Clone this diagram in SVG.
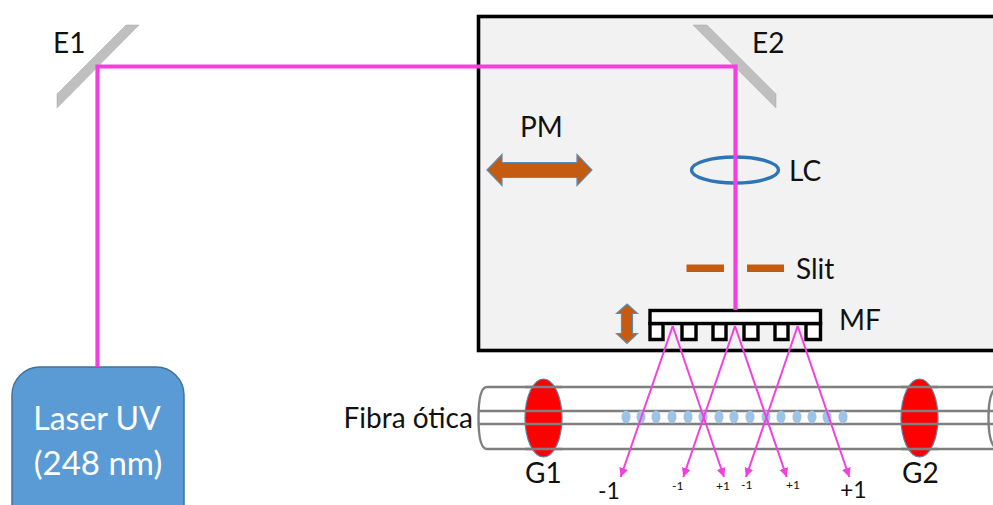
<svg xmlns="http://www.w3.org/2000/svg" width="993" height="505" viewBox="0 0 993 505">
<style>
text{font-family:"Lato","Open Sans","Liberation Sans",sans-serif;fill:#111}
.l{font-size:28px}
.s{font-size:12px}
.m{fill:#bfbfbf;stroke:#a6a6a6;stroke-width:.5}
.beam{fill:none;stroke:#f43fe0;stroke-width:4.200}
.ray{stroke:#f43fe0;stroke-width:2;fill:none;marker-end:url(#ah)}
.o{fill:#c55a11}
.oa{fill:#c55a11;stroke:#5b8cb8;stroke-width:1.200}
.f{fill:none;stroke:#7f7f7f;stroke-width:2.400}
.g{fill:#f00;stroke:#5b82a8;stroke-width:1.200}
.d{fill:#9dc3e6}
.t{fill:#fff;stroke:#000;stroke-width:3.400}
</style>
<defs>
<marker id="ah" markerUnits="userSpaceOnUse" markerWidth="12" markerHeight="12" refX="9" refY="4.500" orient="auto">
<path d="M0,0L9,4.500L0,9Z" fill="#f43fe0"/>
</marker>
</defs>
<g id="chamber"><rect x="478.500" y="16.500" width="530" height="334" fill="#f2f2f2" stroke="#000" stroke-width="3.600"/></g>
<g id="fiber">
<path class="f" d="M998,387H487C481,387 478.500,400 478.500,418C478.500,436 481,449 487,449H998"/>
<path class="f" d="M479,411H993M479,424H993"/>
<path class="f" d="M997,387C991,390 988.500,402 988.500,418C988.500,434 991,446 997,449"/>
</g>
<g id="gratings-dots" class="d">
<ellipse cx="626" cy="417" rx="4.500" ry="6.500"/><ellipse cx="641" cy="417" rx="4.500" ry="6.500"/><ellipse cx="656" cy="417" rx="4.500" ry="6.500"/><ellipse cx="672" cy="417" rx="4.500" ry="6.500"/><ellipse cx="688" cy="417" rx="4.500" ry="6.500"/><ellipse cx="703" cy="417" rx="4.500" ry="6.500"/><ellipse cx="719" cy="417" rx="4.500" ry="6.500"/><ellipse cx="734" cy="417" rx="4.500" ry="6.500"/><ellipse cx="750" cy="417" rx="4.500" ry="6.500"/><ellipse cx="766" cy="417" rx="4.500" ry="6.500"/><ellipse cx="781" cy="417" rx="4.500" ry="6.500"/><ellipse cx="797" cy="417" rx="4.500" ry="6.500"/><ellipse cx="812" cy="417" rx="4.500" ry="6.500"/><ellipse cx="827" cy="417" rx="4.500" ry="6.500"/><ellipse cx="843" cy="417" rx="4.500" ry="6.500"/>
</g>
<g id="G1"><ellipse class="g" cx="543.500" cy="418" rx="18.500" ry="39"/><path class="f" d="M525,387H562M525,411H562M525,424H562M525,449H562"/><text class="l" x="525" y="483">G1</text></g>
<g id="G2"><ellipse class="g" cx="919.500" cy="418" rx="18.500" ry="39"/><path class="f" d="M901,387H938M901,411H938M901,424H938M901,449H938"/><text class="l" x="902" y="483">G2</text></g>
<g id="fiber-label"><text class="l" x="343.500" y="428">Fibra ótica</text></g>
<g id="laser"><rect x="12" y="367" width="172" height="170" rx="28" fill="#5b9bd5" stroke="#41719c" stroke-width="1.500"/>
<text x="97" y="430" font-size="32" text-anchor="middle" style="fill:#fff">Laser UV</text>
<text x="98" y="475" font-size="33" text-anchor="middle" style="fill:#fff">(248 nm)</text></g>
<g id="E1"><polygon class="m" points="126,25 139,25 57,108 57,94"/><text class="l" x="53" y="53">E1</text></g>
<g id="E2"><polygon class="m" points="693,25 707,25 776,94 776,108"/><text class="l" x="752" y="53">E2</text></g>
<g id="PM"><polygon class="oa" points="487,170 502,154.500 502,162.500 577,162.500 577,154.500 592,170 577,185.500 577,177.500 502,177.500 502,185.500"/><text class="l" x="520" y="137">PM</text></g>
<g id="LC"><ellipse cx="735" cy="170" rx="43.500" ry="13" fill="none" stroke="#2e75b6" stroke-width="3.400"/><text class="l" x="789" y="181">LC</text></g>
<g id="Slit"><rect class="o" x="686.500" y="264.500" width="37.500" height="7.500"/><rect class="o" x="747" y="264.500" width="37" height="7.500"/><text class="l" x="796" y="279">Slit</text></g>
<g id="MF">
<polygon class="oa" points="627,304 637.500,313.500 632.500,313.500 632.500,333.500 637.500,333.500 627,343.500 616.500,333.500 621.500,333.500 621.500,313.500 616.500,313.500"/>
<path class="t" d="M650,323.500h13v16h-13zM682,323.500h14v16h-14zM713,323.500h13v16h-13zM744,323.500h14v16h-14zM775,323.500h13v16h-13zM806,323.500h14.500v16h-14.500z"/>
<rect class="t" x="650" y="310.500" width="170.500" height="13"/>
<text class="l" x="839" y="330">MF</text></g>
<g id="connectors">
<path class="beam" d="M97.500,367V66.500H735.500V310"/>
<path class="ray" d="M672.700,326L620.700,477"/>
<path class="ray" d="M672.700,326L724,477"/>
<path class="ray" d="M735,326L683.300,477"/>
<path class="ray" d="M735,326L786.700,477"/>
<path class="ray" d="M797.700,326L746,477"/>
<path class="ray" d="M797.700,326L849.300,477"/>
</g>
<g id="order-labels">
<text x="598" y="499" font-size="23">-1</text>
<text x="672" y="490" class="s">-1</text>
<text x="716" y="490" class="s">+1</text>
<text x="741" y="489" class="s">-1</text>
<text x="786" y="489" class="s">+1</text>
<text x="840" y="498" font-size="23">+1</text>
</g>
</svg>
